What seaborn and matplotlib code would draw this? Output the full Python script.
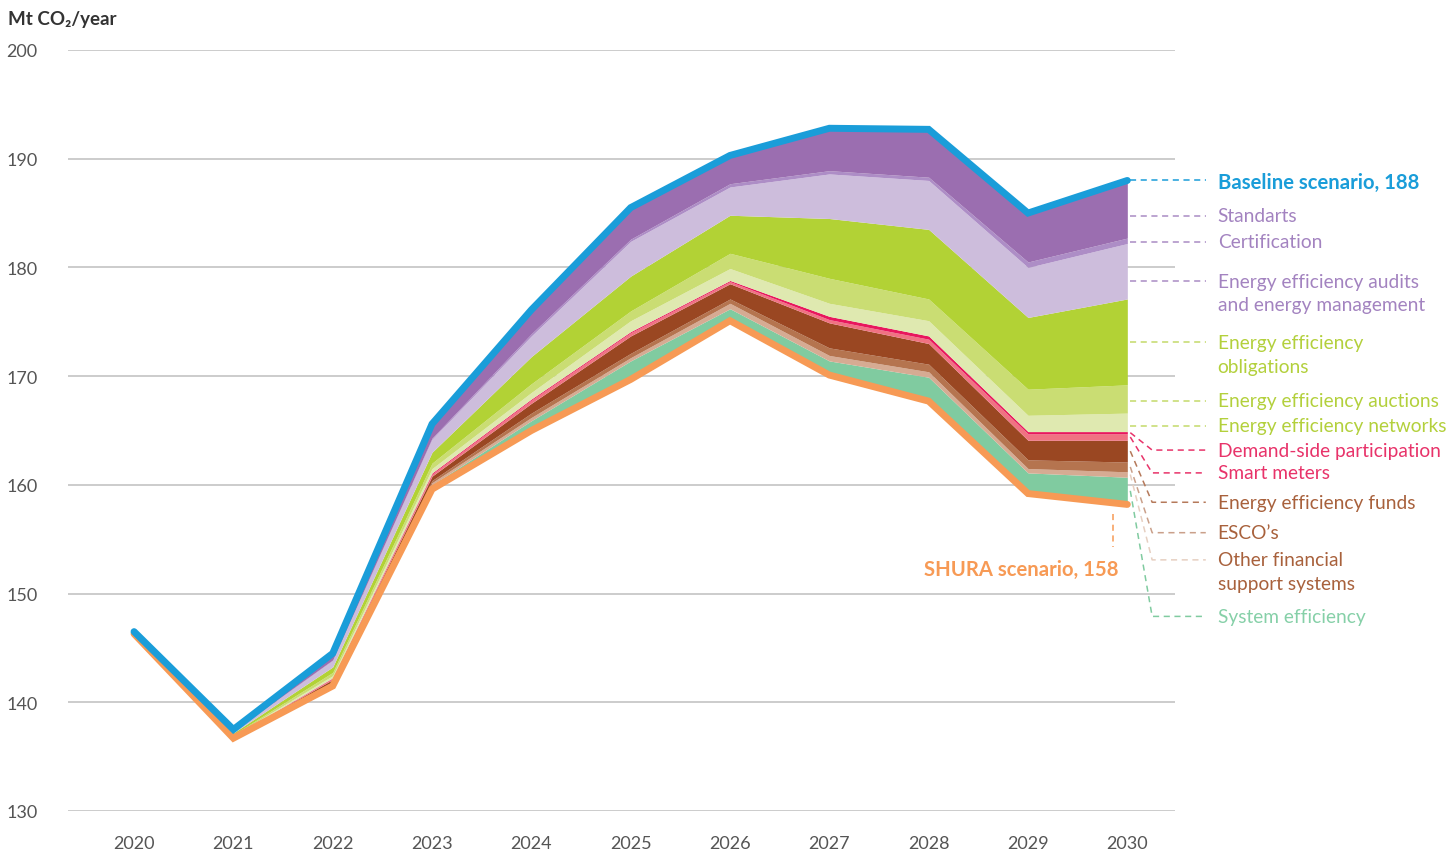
import numpy as np
import pandas as pd
import matplotlib
matplotlib.use("Agg")
import matplotlib.pyplot as plt
import seaborn as sns

# ------------------------------------------------------------
# DATA (Mt CO2/year)
# ------------------------------------------------------------
years = [2020, 2021, 2022, 2023, 2024, 2025, 2026, 2027, 2028, 2029, 2030]
shura = [146.3, 136.7, 141.5, 159.6, 165.0, 169.7, 175.1, 170.1, 167.7, 159.2, 158.2]

# savings per measure, stacked from the SHURA line upwards
system_efficiency = [0.0, 0.05, 0.2, 0.4, 0.9, 1.7, 1.1, 1.3, 2.2, 1.9, 2.5]
other_financial = [0.0, 0.03, 0.1, 0.2, 0.3, 0.3, 0.5, 0.5, 0.5, 0.4, 0.5]
escos = [0.0, 0.03, 0.1, 0.2, 0.4, 0.4, 0.4, 0.7, 0.7, 0.8, 0.9]
ee_funds = [0.0, 0.07, 0.2, 0.4, 0.9, 1.6, 1.4, 2.3, 1.9, 1.8, 2.0]
smart_meters = [0.0, 0.02, 0.1, 0.2, 0.3, 0.3, 0.2, 0.3, 0.4, 0.6, 0.6]
demand_side = [0.0, 0.0, 0.05, 0.1, 0.1, 0.1, 0.1, 0.3, 0.3, 0.2, 0.2]
ee_networks = [0.0, 0.05, 0.2, 0.4, 0.6, 1.0, 1.1, 1.2, 1.4, 1.5, 1.7]
ee_auctions = [0.0, 0.08, 0.3, 0.5, 0.8, 0.9, 1.4, 2.3, 2.0, 2.4, 2.6]
ee_obligations = [0.05, 0.15, 0.5, 1.0, 2.5, 3.2, 3.5, 5.5, 6.4, 6.6, 7.9]
ee_audits = [0.05, 0.15, 0.6, 1.2, 1.9, 3.2, 2.6, 4.1, 4.5, 4.6, 5.1]
certification = [0.0, 0.02, 0.05, 0.1, 0.2, 0.2, 0.3, 0.3, 0.3, 0.5, 0.5]
standards = [0.1, 0.15, 0.6, 1.3, 2.2, 2.9, 2.6, 3.9, 4.4, 4.5, 5.3]

layers = [
    # (values, fill colour, label, text colour, leader colour, label y)
    (system_efficiency, "#80cba0", "System efficiency", "#86d0a8", "#80cba0", 147.9),
    (other_financial, "#d6ab93", "Other financial\nsupport systems", "#a8613c", "#e6cfc1", 153.1),
    (escos, "#b5744f", "ESCO’s", "#a8613c", "#caa08a", 155.6),
    (ee_funds, "#9a4722", "Energy efficiency funds", "#a8613c", "#b5795a", 158.4),
    (smart_meters, "#f07282", "Smart meters", "#e8336a", "#e8336a", 161.1),
    (demand_side, "#e8175d", "Demand-side participation", "#e8336a", "#e8336a", 163.2),
    (ee_networks, "#dfe9b0", "Energy efficiency networks", "#b3d03c", "#c4da6a", 165.45),
    (ee_auctions, "#cadd73", "Energy efficiency auctions", "#b3d03c", "#c4da6a", 167.75),
    (ee_obligations, "#b2d235", "Energy efficiency\nobligations", "#b3d03c", "#c4da6a", 173.1),
    (ee_audits, "#cdbddc", "Energy efficiency audits\nand energy management", "#a383c0", "#a98bc4", 178.75),
    (certification, "#ad8dc6", "Certification", "#a383c0", "#a98bc4", 182.35),
    (standards, "#9b6eb0", "Standarts", "#a383c0", "#a98bc4", 184.75),
]

BLUE = "#1a9dd9"
ORANGE = "#f79a55"

# ------------------------------------------------------------
# STYLE
# ------------------------------------------------------------
sns.set_theme(style="white")
plt.rcParams["font.family"] = ["Lato", "DejaVu Sans"]

fig = plt.figure(figsize=(14.56, 8.54), dpi=100)
ax = fig.add_axes([68 / 1456, 42 / 854, (1175 - 68) / 1456, (812 - 51) / 854])

# ------------------------------------------------------------
# STACKED SAVINGS
# ------------------------------------------------------------
bottom = np.array(shura, dtype=float)
tops = []
for vals, fill, *_ in layers:
    top = bottom + np.array(vals)
    ax.fill_between(years, bottom, top, color=fill, lw=0, zorder=2)
    tops.append((bottom.copy(), top.copy()))
    bottom = top

lines = pd.DataFrame({
    "year": years * 2,
    "value": list(shura) + list(bottom),
    "scenario": ["SHURA"] * len(years) + ["Baseline"] * len(years),
})
sns.lineplot(data=lines, x="year", y="value", hue="scenario",
             palette={"SHURA": ORANGE, "Baseline": BLUE}, lw=5,
             legend=False, ax=ax, zorder=4, solid_capstyle="round",
             solid_joinstyle="miter")

# ------------------------------------------------------------
# AXES
# ------------------------------------------------------------
ax.set_xlim(2019.335, 2030.48)
ax.set_ylim(130, 200)
ax.set_yticks(range(130, 201, 10))
ax.set_xticks(years)
ax.grid(axis="y", color="#c4c4c4", lw=1.2)
ax.set_axisbelow(True)
for s in ax.spines.values():
    s.set_visible(False)
ax.tick_params(axis="y", length=0, pad=22, labelsize=13, labelcolor="#555555")
ax.tick_params(axis="x", length=0, pad=17, labelsize=13, labelcolor="#555555")
ax.set_xlabel("")
ax.set_ylabel("")

fig.text(8 / 1456, 1 - 20 / 854, "Mt CO₂/year", ha="left", va="center",
         fontsize=13.5, fontweight="bold", color="#333333")

# ------------------------------------------------------------
# LABELS WITH LEADER LINES
# ------------------------------------------------------------
x0, xe, x1, xt = 2030.03, 2030.25, 2030.79, 2030.91
dash = dict(ls=(0, (4, 3)), lw=1.1, clip_on=False, zorder=5)
LBL = 13.8
BOLD = 14.6

ax.plot([x0, x1], [188.0, 188.0], color=BLUE, **dash)
ax.text(xt, 187.9, "Baseline scenario, 188", color=BLUE, fontsize=BOLD,
        fontweight="bold", va="center", ha="left")

for (lo, hi), (vals, fill, label, tcol, lcol, ly) in zip(tops, layers):
    mid = (lo[-1] + hi[-1]) / 2
    if ly > 165:
        ax.plot([x0, x1], [ly, ly], color=lcol, **dash)
    else:
        ax.plot([x0, xe, x1], [mid, ly, ly], color=lcol, **dash)
    parts = label.split("\n")
    ax.text(xt, ly, parts[0], color=tcol, fontsize=LBL,
            fontweight="normal", va="center", ha="left")
    if len(parts) > 1:
        ax.text(xt, ly - 2.2, parts[1], color=tcol, fontsize=LBL,
                fontweight="normal", va="center", ha="left")

ax.plot([2029.86, 2029.86], [157.3, 154.3], color=ORANGE, **dash)
ax.text(2029.91, 152.3, "SHURA scenario, 158", color=ORANGE, fontsize=BOLD,
        fontweight="bold", va="center", ha="right")

fig.savefig("out.png", dpi=100)
